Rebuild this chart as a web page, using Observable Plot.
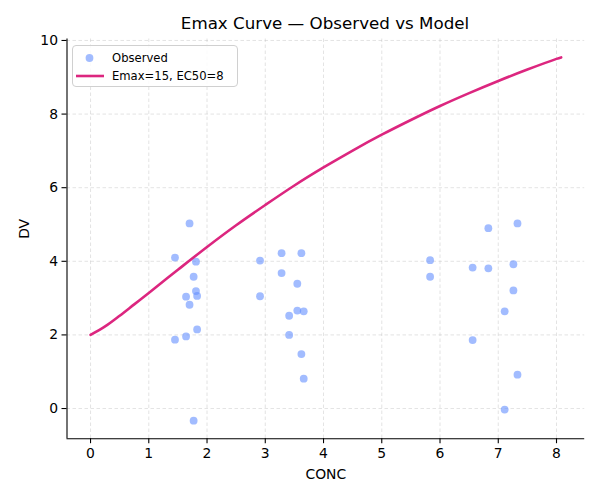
<!DOCTYPE html>
<html>
<head>
<meta charset="utf-8">
<script src="https://cdn.jsdelivr.net/npm/d3@7"></script>
<script src="https://cdn.jsdelivr.net/npm/@observablehq/plot@0.6"></script>
<style>
  html, body { margin: 0; padding: 0; background: #fff; }
  #wrap { position: relative; width: 600px; height: 500px; font-family: "DejaVu Sans", sans-serif; }
  #title { position: absolute; left: 66px; width: 518px; top: 12px; text-align: center; font-size: 16.7px; line-height: 22px; color: #000; }
  #legend { position: absolute; left: 72px; top: 45px; width: 164px; height: 40px; border: 1px solid #d0d0d0; border-radius: 4px; background: rgba(255,255,255,0.85); font-size: 11.6px; color: #000; }
  .lrow { position: absolute; left: 0; height: 16px; width: 100%; }
  .lrow svg { position: absolute; left: 0; top: 0; }
  .lrow span { position: absolute; left: 39px; top: 0; line-height: 16px; white-space: nowrap; }
</style>
</head>
<body>
<div id="wrap">
  <div id="chart"></div>
  <div id="title"></div>
  <div id="legend"></div>
</div>
<script>
const titleText = "Emax Curve — Observed vs Model";
const xLabel = "CONC";
const yLabel = "DV";
const legendLabels = ["Observed", "Emax=15, EC50=8"];
const xTicks = [0, 1, 2, 3, 4, 5, 6, 7, 8];
const yTicks = [0, 2, 4, 6, 8, 10];
const xDomain = [-0.404, 8.484];
const yDomain = [-0.82, 10.04];

const obsConc = [1.45, 1.45, 1.64, 1.64, 1.70, 1.70, 1.77, 1.77, 1.81, 1.81, 1.83, 1.83,
                 2.91, 2.91, 3.28, 3.28, 3.41, 3.41, 3.55, 3.55, 3.62, 3.62, 3.66, 3.66,
                 5.83, 5.83, 6.56, 6.56, 6.83, 6.83, 7.11, 7.11, 7.26, 7.26, 7.33, 7.33];
const obsDV   = [4.10, 1.87, 3.04, 1.96, 5.03, 2.82, 3.58, -0.33, 3.99, 3.19, 3.06, 2.15,
                 4.02, 3.05, 4.22, 3.68, 2.52, 2.00, 3.39, 2.66, 4.22, 1.48, 2.64, 0.81,
                 4.03, 3.58, 3.83, 1.86, 4.90, 3.81, 2.64, -0.03, 3.92, 3.21, 5.03, 0.92];

const modelConc = [0, 0.25, 0.5, 0.75, 1.0, 1.5, 2.0, 2.5, 3.0, 3.5, 4.0, 4.5, 5.0, 5.5, 6.0, 6.5, 7.0, 7.5, 8.0, 8.08];
const modelDV   = [2.00, 2.23, 2.52, 2.83, 3.14, 3.77, 4.39, 4.98, 5.53, 6.06, 6.55, 7.01, 7.44, 7.84, 8.22, 8.57, 8.90, 9.21, 9.50, 9.54];

const pointColor = "#648FFF";
const lineColor = "#DC267F";

const obs = obsConc.map((c, i) => ({conc: c, dv: obsDV[i]}));
const model = modelConc.map((c, i) => ({conc: c, dv: modelDV[i]}));

const grid = {stroke: "#b0b0b0", strokeOpacity: 0.45, strokeWidth: 0.8, strokeDasharray: "3.5,2.5"};

const chart = Plot.plot({
  width: 600,
  height: 500,
  marginLeft: 66.5,
  marginRight: 15.8,
  marginTop: 38.5,
  marginBottom: 61.8,
  style: {fontFamily: "DejaVu Sans, sans-serif", fontSize: "13.9px", color: "#000", background: "#fff", overflow: "visible"},
  x: {domain: xDomain, label: null},
  y: {domain: yDomain, label: null},
  marks: [
    Plot.gridX(xTicks, grid),
    Plot.gridY(yTicks, grid),
    Plot.dot(obs, {x: "conc", y: "dv", r: 3.9, fill: pointColor, fillOpacity: 0.6, stroke: "none"}),
    Plot.line(model, {x: "conc", y: "dv", stroke: lineColor, strokeWidth: 2.6, curve: "catmull-rom"}),
    Plot.ruleX([xDomain[0]], {stroke: "#000", strokeWidth: 1.1}),
    Plot.ruleY([yDomain[0]], {stroke: "#000", strokeWidth: 1.1}),
    Plot.axisX(xTicks, {tickSize: 5, tickPadding: 4, fontSize: 13.9, label: null, stroke: "#000", strokeWidth: 1.1}),
    Plot.axisY(yTicks, {tickSize: 5, tickPadding: 4, fontSize: 13.9, label: null, stroke: "#000", strokeWidth: 1.1}),
    Plot.text([xLabel], {frameAnchor: "bottom", dy: 36, lineAnchor: "middle", fontSize: 13.9, fill: "#000"}),
    Plot.text([yLabel], {frameAnchor: "left", dx: -42, rotate: -90, lineAnchor: "middle", fontSize: 13.9, fill: "#000"})
  ]
});
document.getElementById("chart").appendChild(chart);
document.getElementById("title").textContent = titleText;

const legend = document.getElementById("legend");
legend.innerHTML = `
  <div class="lrow" style="top:4px">
    <svg width="36" height="16"><circle cx="16.5" cy="8" r="3.9" fill="${pointColor}" fill-opacity="0.6"></circle></svg>
    <span>${legendLabels[0]}</span>
  </div>
  <div class="lrow" style="top:22px">
    <svg width="36" height="16"><line x1="3" x2="31" y1="8" y2="8" stroke="${lineColor}" stroke-width="2.6"></line></svg>
    <span>${legendLabels[1]}</span>
  </div>`;
</script>
</body>
</html>
